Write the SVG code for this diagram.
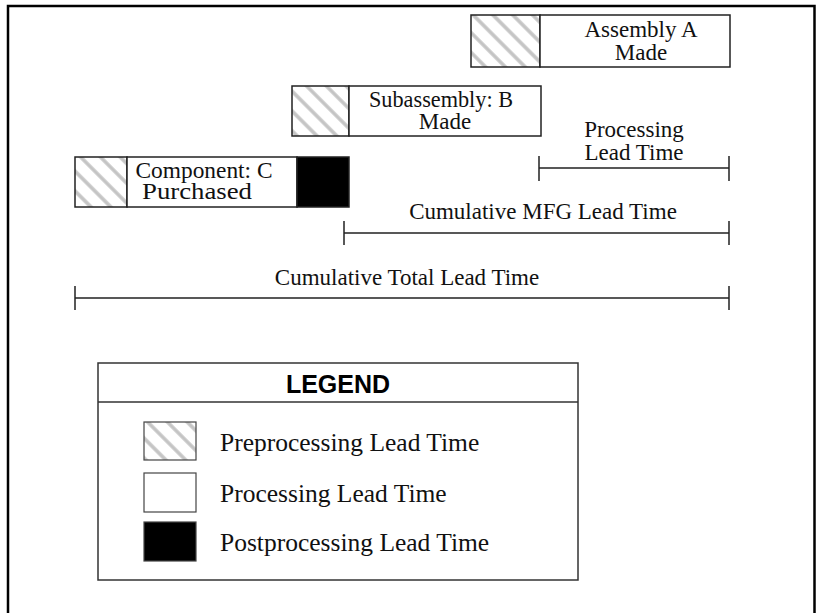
<svg xmlns="http://www.w3.org/2000/svg" width="817" height="613" viewBox="0 0 817 613">
<defs>
<pattern id="hatch" patternUnits="userSpaceOnUse" width="14" height="14" patternTransform="rotate(-45)">
<rect x="0" y="0" width="14" height="14" fill="#fff"/>
<line x1="2" y1="-2" x2="2" y2="16" stroke="#c4c4c4" stroke-width="3.5"/>
</pattern>
<style>
.box{stroke:#222;stroke-width:1.5}
.pre{fill:url(#hatch)}
.proc{fill:#fff}
.post{fill:#000}
.t{font-family:"Liberation Serif","Times New Roman",serif;font-size:23px;fill:#111;text-anchor:middle}
.lt{font-family:"Liberation Serif","Times New Roman",serif;font-size:25.5px;fill:#111}
.bar{stroke:#222;stroke-width:1.5;fill:none}
.lg{font-family:"Liberation Sans",Arial,sans-serif;font-size:25px;font-weight:bold;fill:#000;text-anchor:middle}
</style>
</defs>
<rect width="817" height="613" fill="#fff"/>
<path d="M8,613 V6 H814.5 V613" fill="none" stroke="#000" stroke-width="2.5"/>

<g id="assemblyA">
<rect class="box pre" x="471" y="15" width="69" height="52"/>
<rect class="box proc" x="540" y="15" width="190" height="52"/>
<text class="t" x="641" y="37">Assembly A</text>
<text class="t" x="641" y="60">Made</text>
</g>

<g id="subassemblyB">
<rect class="box pre" x="292" y="86" width="57" height="50"/>
<rect class="box proc" x="349" y="86" width="192" height="50"/>
<text class="t" x="441" y="107" textLength="144" lengthAdjust="spacingAndGlyphs">Subassembly: B</text>
<text class="t" x="445" y="129">Made</text>
</g>

<g id="componentC">
<rect class="box pre" x="75" y="157" width="52" height="50"/>
<rect class="box proc" x="127" y="157" width="170" height="50"/>
<rect class="box post" x="297" y="157" width="52" height="50"/>
<text class="t" x="204" y="178" textLength="137" lengthAdjust="spacingAndGlyphs">Component: C</text>
<text class="t" x="197" y="199" textLength="110" lengthAdjust="spacingAndGlyphs">Purchased</text>
</g>

<g id="connectors">
<path class="bar" d="M539,168 H729 M539,156 V181 M729,156 V181"/>
<path class="bar" d="M344,233 H729 M344,221 V245 M729,221 V245"/>
<path class="bar" d="M75,298 H729 M75,286 V310 M729,286 V310"/>
</g>

<g id="labels">
<text class="t" x="634" y="137">Processing</text>
<text class="t" x="634" y="160">Lead Time</text>
<text class="t" x="543" y="219">Cumulative MFG Lead Time</text>
<text class="t" x="407" y="285">Cumulative Total Lead Time</text>
</g>

<g id="legend">
<rect x="98" y="363" width="480" height="217" fill="#fff" stroke="#333" stroke-width="1.5"/>
<line x1="98" y1="402" x2="578" y2="402" stroke="#333" stroke-width="1.5"/>
<text class="lg" x="338" y="393">LEGEND</text>
<rect class="pre" x="144" y="422" width="52" height="38" stroke="#444" stroke-width="1.2"/>
<rect class="proc" x="144" y="473" width="52" height="39" stroke="#444" stroke-width="1.2"/>
<rect class="post" x="144" y="522" width="52" height="39" stroke="#444" stroke-width="1.2"/>
<text class="lt" x="220" y="451">Preprocessing Lead Time</text>
<text class="lt" x="220" y="502">Processing Lead Time</text>
<text class="lt" x="220" y="551">Postprocessing Lead Time</text>
</g>
</svg>
